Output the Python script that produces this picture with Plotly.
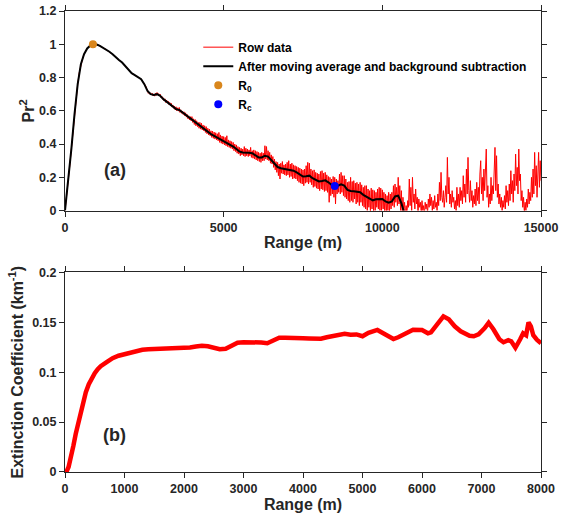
import numpy as np
import plotly.graph_objects as go
from plotly.subplots import make_subplots

COLOR_RED = "#FF0000"
COLOR_ORANGE = "#D9861C"
COLOR_BLUE = "#0000FF"
AXIS_COLOR = "#262626"
FONT = "Liberation Sans, Arial, sans-serif"

# --- panel (a): raw Pr^2 (50 m steps up to 2450 m, then 25 m steps) ---
raw_range = np.concatenate([np.arange(0, 2500, 50), np.arange(2500, 15001, 25)])
raw_pr2 = [
    0.0, 0.08, 0.17, 0.27, 0.37, 0.47, 0.58, 0.68, 0.76, 0.83,
    0.88, 0.91, 0.94, 0.96, 0.975, 0.985, 0.993, 0.998, 1.0, 1.0,
    0.998, 0.995, 0.99, 0.985, 0.98, 0.975, 0.968, 0.96, 0.955, 0.948,
    0.94, 0.93, 0.92, 0.912, 0.905, 0.897, 0.89, 0.88, 0.87, 0.858,
    0.845, 0.835, 0.826, 0.82, 0.815, 0.81, 0.805, 0.798, 0.79, 0.775,
    # 2500 m onwards, 25 m steps
    0.765, 0.75, 0.748, 0.73, 0.725, 0.705, 0.712, 0.70, 0.708, 0.695,
    0.705, 0.69, 0.70, 0.688, 0.706, 0.693, 0.71, 0.695, 0.703, 0.69,
    0.70, 0.68, 0.688, 0.67, 0.678, 0.66, 0.672, 0.65, 0.665, 0.648,
    0.658, 0.638, 0.65, 0.632, 0.645, 0.622, 0.635, 0.615, 0.628, 0.605,
    0.624, 0.60, 0.618, 0.598, 0.62, 0.59, 0.606, 0.585, 0.598, 0.578,
    0.594, 0.57, 0.588, 0.562, 0.578, 0.552, 0.57, 0.545, 0.565, 0.54,
    0.565, 0.53, 0.552, 0.518, 0.548, 0.51, 0.54, 0.505, 0.53, 0.495,
    0.53, 0.49, 0.525, 0.485, 0.515, 0.48, 0.51, 0.47, 0.505, 0.462,
    0.495, 0.455, 0.49, 0.45, 0.48, 0.44, 0.478, 0.435, 0.472, 0.43,
    0.468, 0.425, 0.462, 0.42, 0.47, 0.41, 0.455, 0.405, 0.448, 0.40,
    0.445, 0.395, 0.44, 0.39, 0.45, 0.385, 0.425, 0.38, 0.42, 0.375,
    0.415, 0.37, 0.41, 0.36, 0.40, 0.355, 0.395, 0.345, 0.385, 0.34,
    0.38, 0.33, 0.375, 0.335, 0.37, 0.33, 0.385, 0.325, 0.375, 0.33,
    0.37, 0.325, 0.365, 0.33, 0.38, 0.32, 0.36, 0.315, 0.365, 0.31,
    0.36, 0.305, 0.355, 0.30, 0.35, 0.295, 0.345, 0.29, 0.35, 0.30,
    0.345, 0.30, 0.39, 0.31, 0.385, 0.305, 0.36, 0.30, 0.35, 0.285,
    0.335, 0.28, 0.325, 0.26, 0.31, 0.245, 0.295, 0.23, 0.29, 0.21,
    0.28, 0.19, 0.285, 0.225, 0.295, 0.22, 0.275, 0.215, 0.28, 0.21,
    0.29, 0.215, 0.30, 0.20, 0.28, 0.205, 0.285, 0.19, 0.275, 0.195,
    0.27, 0.19, 0.265, 0.18, 0.26, 0.17, 0.255, 0.165, 0.25, 0.16,
    0.245, 0.15, 0.25, 0.165, 0.27, 0.17, 0.29, 0.16, 0.285, 0.17,
    0.25, 0.155, 0.24, 0.14, 0.245, 0.145, 0.23, 0.135, 0.225, 0.13,
    0.22, 0.12, 0.235, 0.13, 0.24, 0.125, 0.225, 0.115, 0.23, 0.12,
    0.215, 0.11, 0.205, 0.05, 0.20, 0.09, 0.19, 0.10, 0.205, 0.08,
    0.20, 0.04, 0.19, 0.10, 0.18, 0.11, 0.22, 0.10, 0.23, 0.11,
    0.21, 0.09, 0.21, 0.08, 0.19, 0.07, 0.17, 0.06, 0.175, 0.05,
    0.20, 0.06, 0.175, 0.05, 0.18, 0.07, 0.165, 0.04, 0.17, 0.05,
    0.16, 0.03, 0.17, 0.05, 0.155, 0.03, 0.14, 0.02, 0.15, 0.01,
    0.15, 0.0, 0.13, 0.02, 0.12, -0.01, 0.135, 0.01, 0.125, -0.01,
    0.12, 0.0, 0.11, 0.02, 0.13, 0.01, 0.14, 0.0, 0.135, 0.0,
    0.125, 0.01, 0.11, -0.01, 0.10, -0.02, 0.09, 0.0, 0.11, -0.01,
    0.10, 0.01, 0.11, 0.03, 0.15, 0.02, 0.16, 0.05, 0.14, 0.03,
    0.20, 0.04, 0.15, 0.0, 0.12, -0.02, 0.08, 0.0, 0.05, -0.03,
    0.03, -0.02, 0.06, 0.02, 0.19, 0.03, 0.14, 0.0, 0.20, 0.05,
    0.10, 0.01, 0.13, 0.04, 0.08, -0.02, 0.07, 0.02, 0.05, -0.01,
    0.06, 0.0, 0.03, -0.03, 0.05, 0.01, 0.04, -0.02, 0.07, 0.02,
    0.10, 0.03, 0.08, 0.0, 0.06, 0.01, 0.09, 0.02, 0.05, 0.0,
    0.10, 0.03, 0.17, 0.06, 0.23, 0.08, 0.05, 0.12, 0.02, 0.08,
    0.15, 0.05, 0.32, 0.10, 0.20, 0.04, 0.10, 0.02, 0.12, 0.05,
    0.08, 0.01, 0.06, 0.0, 0.14, 0.03, 0.10, 0.02, 0.14, 0.06,
    0.12, 0.04, 0.21, 0.08, 0.16, 0.05, 0.25, 0.10, 0.32, 0.12,
    0.05, 0.18, 0.06, 0.12, 0.02, 0.09, 0.04, 0.13, 0.03, 0.17,
    0.06, 0.14, 0.04, 0.22, 0.30, 0.10, 0.20, 0.06, 0.25, 0.12,
    0.30, 0.37, 0.08, 0.15, 0.02, 0.10, 0.04, 0.20, 0.06, 0.15,
    0.10, 0.30, 0.38, 0.12, 0.33, 0.08, 0.16, 0.04, 0.10, 0.02,
    0.08, 0.0, 0.06, 0.02, 0.09, 0.01, 0.15, 0.05, 0.12, 0.03,
    0.16, 0.06, 0.24, 0.10, 0.18, 0.05, 0.22, 0.12, 0.34, 0.15,
    0.26, 0.10, 0.37, 0.18, 0.22, 0.06, 0.12, 0.02, 0.08, -0.01,
    0.05, 0.0, 0.07, 0.02, 0.13, 0.04, 0.11, 0.06, 0.20, 0.08,
    0.25, 0.10, 0.35, 0.15, 0.27, 0.08, 0.20, 0.35, 0.14, 0.30,
    0.18,
]

# smoothed Pr^2, every 100 m from 0 to 10700 m
smooth_range = np.arange(0, 10701, 100)
smooth_pr2 = [
    0.0, 0.17, 0.37, 0.58, 0.76, 0.88, 0.94, 0.975, 0.993, 1.0,
    0.998, 0.99, 0.98, 0.968, 0.955, 0.94, 0.92, 0.905, 0.89, 0.87,
    0.845, 0.826, 0.815, 0.805, 0.79, 0.76, 0.72, 0.70, 0.695, 0.70,
    0.69, 0.67, 0.655, 0.64, 0.625, 0.61, 0.605, 0.59, 0.575, 0.56,
    0.545, 0.53, 0.515, 0.505, 0.49, 0.475, 0.46, 0.45, 0.44, 0.43,
    0.42, 0.41, 0.40, 0.385, 0.37, 0.355, 0.35, 0.35, 0.348, 0.345,
    0.335, 0.32, 0.32, 0.33, 0.325, 0.305, 0.28, 0.262, 0.255, 0.252,
    0.25, 0.245, 0.24, 0.23, 0.215, 0.205, 0.207, 0.21, 0.195, 0.185,
    0.175, 0.178, 0.182, 0.17, 0.155, 0.147, 0.15, 0.158, 0.15, 0.125,
    0.118, 0.116, 0.115, 0.11, 0.095, 0.085, 0.07, 0.062, 0.068, 0.068,
    0.07, 0.055, 0.048, 0.055, 0.085, 0.09, 0.045, -0.02,
]

r0_range, r0_pr2 = [880], [1.0]
rc_range, rc_pr2 = [8500], [0.148]

# --- panel (b): extinction coefficient ---
ext_range = [
    0, 30, 60, 100, 140, 180, 220, 260, 300, 350, 400, 450, 500, 550, 600,
    700, 800, 900, 1000, 1100, 1200, 1300, 1400, 1500, 1600, 1700, 1800,
    1900, 2000, 2100, 2200, 2300, 2400, 2500, 2600, 2700, 2800, 2900, 3000,
    3100, 3200, 3300, 3400, 3500, 3600, 3700, 3800, 3900, 4000, 4100, 4200,
    4300, 4400, 4500, 4600, 4700, 4800, 4900, 5000, 5100, 5250, 5350, 5450,
    5520, 5600, 5700, 5850, 6000, 6100, 6150, 6250, 6360, 6450, 6550, 6650,
    6800, 6870, 6950, 7050, 7120, 7200, 7300, 7370, 7450, 7500, 7570, 7650,
    7700, 7750, 7790, 7830, 7870, 7930, 7970, 8000,
]
ext_coef = [
    0.0, 0.001, 0.005, 0.014, 0.026, 0.038, 0.049, 0.060, 0.070, 0.080,
    0.088, 0.094, 0.099, 0.103, 0.106, 0.110, 0.114, 0.1165, 0.118, 0.120,
    0.1215, 0.1225, 0.123, 0.1232, 0.1235, 0.124, 0.1243, 0.124, 0.124,
    0.1248, 0.1258, 0.1265, 0.126, 0.124, 0.123, 0.1235, 0.127, 0.1295,
    0.130, 0.1302, 0.130, 0.1298, 0.129, 0.132, 0.1345, 0.1345, 0.134,
    0.1338, 0.134, 0.1338, 0.1332, 0.1335, 0.135, 0.1365, 0.137, 0.1385,
    0.1375, 0.1378, 0.136, 0.1395, 0.1423, 0.139, 0.136, 0.1332, 0.135,
    0.138, 0.1425, 0.1423, 0.139, 0.140, 0.148, 0.156, 0.153, 0.146, 0.141,
    0.1365, 0.136, 0.138, 0.144, 0.1495, 0.143, 0.133, 0.130, 0.132, 0.131,
    0.1245, 0.133, 0.139, 0.137, 0.150, 0.146, 0.137, 0.1325, 0.131, 0.129,
]

fig = make_subplots(rows=2, cols=1, vertical_spacing=0.134)

fig.add_trace(go.Scatter(x=raw_range, y=raw_pr2, mode="lines", name="Row data",
                         line=dict(color=COLOR_RED, width=1)), row=1, col=1)
fig.add_trace(go.Scatter(x=smooth_range, y=smooth_pr2, mode="lines",
                         name="After moving average and background subtraction",
                         line=dict(color="black", width=2)), row=1, col=1)
fig.add_trace(go.Scatter(x=r0_range, y=r0_pr2, mode="markers", name="R<sub>0</sub>",
                         marker=dict(color=COLOR_ORANGE, size=8)), row=1, col=1)
fig.add_trace(go.Scatter(x=rc_range, y=rc_pr2, mode="markers", name="R<sub>c</sub>",
                         marker=dict(color=COLOR_BLUE, size=8)), row=1, col=1)
fig.add_trace(go.Scatter(x=ext_range, y=ext_coef, mode="lines", showlegend=False,
                         line=dict(color=COLOR_RED, width=4.5)), row=2, col=1)

axis_style = dict(
    showline=True, linecolor=AXIS_COLOR, linewidth=1, mirror="ticks",
    ticks="outside", ticklen=5, tickcolor=AXIS_COLOR, showgrid=False,
    zeroline=False, automargin=False,
    tickfont=dict(size=12.5, family=FONT, weight="bold", color="#262626"),
)
title_font = dict(size=16, family=FONT, weight="bold", color="#262626")

fig.update_xaxes(axis_style, range=[0, 15000], dtick=5000, tickformat="d",
                 title=dict(text="Range (m)", font=title_font, standoff=3), row=1, col=1)
fig.update_yaxes(axis_style, range=[0, 1.2], dtick=0.2,
                 title=dict(text="Pr<sup>2</sup>", font=title_font, standoff=0), row=1, col=1)
fig.update_xaxes(axis_style, range=[0, 8000], dtick=1000, tickformat="d",
                 title=dict(text="Range (m)", font=title_font, standoff=3), row=2, col=1)
fig.update_yaxes(axis_style, range=[0, 0.2], dtick=0.05,
                 title=dict(text="Extinction Coefficient (km<sup>-1</sup>)", font=title_font, standoff=4),
                 row=2, col=1)

fig.add_annotation(text="(a)", x=0.105, y=0.204, xref="x domain", yref="y domain",
                   xanchor="center", yanchor="middle", showarrow=False,
                   font=dict(size=18, family=FONT, weight="bold", color="#262626"))
fig.add_annotation(text="(b)", x=0.105, y=0.184, xref="x2 domain", yref="y2 domain",
                   xanchor="center", yanchor="middle", showarrow=False,
                   font=dict(size=18, family=FONT, weight="bold", color="#262626"))

fig.update_layout(
    width=565, height=518,
    margin=dict(l=65, r=24, t=11, b=46),
    plot_bgcolor="white", paper_bgcolor="white",
    legend=dict(x=0.28, y=0.953, xanchor="left", yanchor="top", itemwidth=30,
                bgcolor="rgba(0,0,0,0)", tracegroupgap=0,
                font=dict(size=12, family=FONT, weight="bold", color="black")),
)

# drop the browser's default 8 px body margin so the figure sits at the page corner
fig.write_html("out.html", config={"displayModeBar": False},
               post_script="document.body.style.margin = '0px';")
